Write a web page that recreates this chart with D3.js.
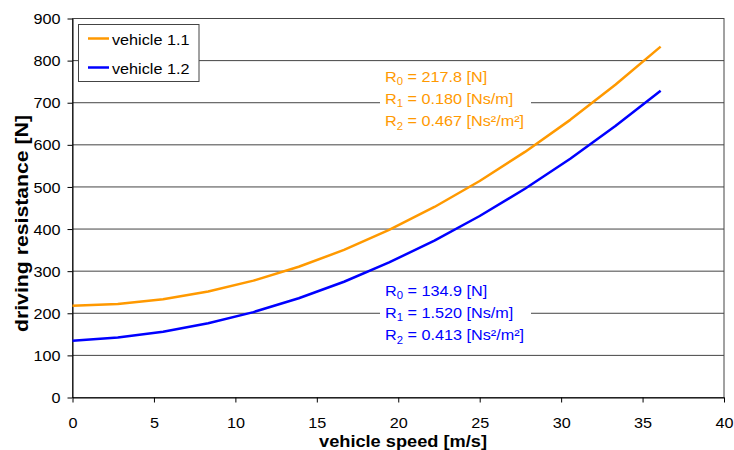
<!DOCTYPE html>
<html>
<head>
<meta charset="utf-8">
<script src="https://cdn.jsdelivr.net/npm/d3@7"></script>
<style>
  body { margin: 0; background: #fff; }
  svg { display: block; font-family: "Liberation Sans", Arial, sans-serif; }
</style>
</head>
<body>
<svg id="chart" width="734" height="450"></svg>
<script>
// Vehicle speed in m/s (10 km/h steps)
const speeds = [0, 2.78, 5.56, 8.33, 11.11, 13.89, 16.67, 19.44, 22.22, 25.00, 27.78, 30.56, 33.33, 36.11];
// Driving resistance in N
const vehicle11 = [217.8, 221.9, 233.2, 251.7, 277.5, 310.4, 350.5, 397.9, 452.4, 514.2, 583.2, 659.3, 742.7, 833.3];
const vehicle12 = [134.9, 142.3, 156.0, 176.3, 202.8, 235.7, 274.9, 320.7, 372.7, 431.0, 495.8, 566.9, 644.5, 728.4];
const seriesNames = ["vehicle 1.1", "vehicle 1.2"];
const seriesColors = ["#FF9900", "#0000FF"];
const xTicks = [0, 5, 10, 15, 20, 25, 30, 35, 40];
const yTicks = [0, 100, 200, 300, 400, 500, 600, 700, 800, 900];
const coeffs11 = [["0", "217.8 [N]"], ["1", "0.180 [Ns/m]"], ["2", "0.467 [Ns²/m²]"]];
const coeffs12 = [["0", "134.9 [N]"], ["1", "1.520 [Ns/m]"], ["2", "0.413 [Ns²/m²]"]];

const svg = d3.select("#chart");
const m = { left: 72.5, right: 724, top: 18.5, bottom: 397.5 };
const WIDEN = 1.08; // the labels use a slightly wide letterform

// Stretch text horizontally around its anchor
function stretch(sel, f) {
  sel.each(function () {
    const len = this.getComputedTextLength();
    d3.select(this).attr("textLength", len * f).attr("lengthAdjust", "spacingAndGlyphs");
  });
}

const x = d3.scaleLinear().domain([0, 40]).range([m.left, m.right]);
const y = d3.scaleLinear().domain([0, 900]).range([m.bottom, m.top]);

// Horizontal gridlines
svg.append("g")
  .selectAll("line")
  .data(yTicks)
  .join("line")
  .attr("x1", m.left).attr("x2", m.right)
  .attr("y1", d => y(d)).attr("y2", d => y(d))
  .attr("stroke", "#444").attr("stroke-width", 1);

// Plot frame
svg.append("rect")
  .attr("x", m.left).attr("y", m.top)
  .attr("width", m.right - m.left).attr("height", m.bottom - m.top)
  .attr("fill", "none").attr("stroke", "#444").attr("stroke-width", 1);

// Axes
const xAxis = svg.append("g")
  .attr("transform", `translate(0,${m.bottom})`)
  .call(d3.axisBottom(x).tickValues(xTicks).tickSize(5).tickSizeOuter(0).tickPadding(14.5));
const yAxis = svg.append("g")
  .attr("transform", `translate(${m.left},0)`)
  .call(d3.axisLeft(y).tickValues(yTicks).tickSize(5).tickSizeOuter(0).tickPadding(7));
[xAxis, yAxis].forEach(a => {
  a.select(".domain").attr("stroke", "#000");
  a.selectAll(".tick line").attr("stroke", "#000");
  a.selectAll(".tick text")
    .attr("font-family", "Liberation Sans, Arial, sans-serif")
    .attr("font-size", 15).attr("fill", "#000")
    .call(stretch, WIDEN);
});
yAxis.selectAll(".tick text").attr("dy", "0.34em");

// Curves
const line = d3.line().x(d => x(d[0])).y(d => y(d[1]));
[vehicle11, vehicle12].forEach((vals, i) => {
  svg.append("path")
    .datum(speeds.map((s, j) => [s, vals[j]]))
    .attr("d", line)
    .attr("fill", "none")
    .attr("stroke", seriesColors[i])
    .attr("stroke-width", 2.5)
    .attr("stroke-linejoin", "round");
});

// Coefficient annotations
function coeffBlock(rows, color, bx, by) {
  svg.append("rect")
    .attr("x", bx - 5).attr("y", by - 17)
    .attr("width", 151).attr("height", 68)
    .attr("fill", "#fff");
  const g = svg.append("g").attr("transform", `translate(${bx},${by}) scale(${WIDEN},1)`);
  rows.forEach((r, i) => {
    const t = g.append("text")
      .attr("x", 0).attr("y", i * 22.5)
      .attr("font-size", 15).attr("fill", color);
    t.append("tspan").text("R");
    t.append("tspan").attr("font-size", 10.5).attr("dy", 3.5).text(r[0]);
    t.append("tspan").attr("dy", -3.5).text(" = " + r[1]);
  });
}
coeffBlock(coeffs11, seriesColors[0], 385, 81.5);
coeffBlock(coeffs12, seriesColors[1], 385, 295.5);

// Legend
const lg = svg.append("g");
lg.append("rect")
  .attr("x", 78.5).attr("y", 24.5).attr("width", 120.5).attr("height", 57)
  .attr("fill", "#fff").attr("stroke", "#444").attr("stroke-width", 1);
seriesNames.forEach((n, i) => {
  const cy = 38.5 + i * 29;
  lg.append("line")
    .attr("x1", 88).attr("x2", 109).attr("y1", cy).attr("y2", cy)
    .attr("stroke", seriesColors[i]).attr("stroke-width", 2.5);
  lg.append("text")
    .attr("x", 112).attr("y", cy + 6.5)
    .attr("font-size", 15).attr("fill", "#000").text(n)
    .call(stretch, WIDEN);
});

// Axis titles
svg.append("text")
  .attr("x", 403).attr("y", 446.5)
  .attr("text-anchor", "middle")
  .attr("font-size", 17).attr("font-weight", "bold")
  .attr("textLength", 168).attr("lengthAdjust", "spacingAndGlyphs")
  .text("vehicle speed [m/s]");
svg.append("text")
  .attr("transform", "translate(28,223.5) rotate(-90)")
  .attr("text-anchor", "middle")
  .attr("font-size", 17.5).attr("font-weight", "bold")
  .attr("textLength", 217).attr("lengthAdjust", "spacingAndGlyphs")
  .text("driving resistance [N]");
</script>
</body>
</html>
